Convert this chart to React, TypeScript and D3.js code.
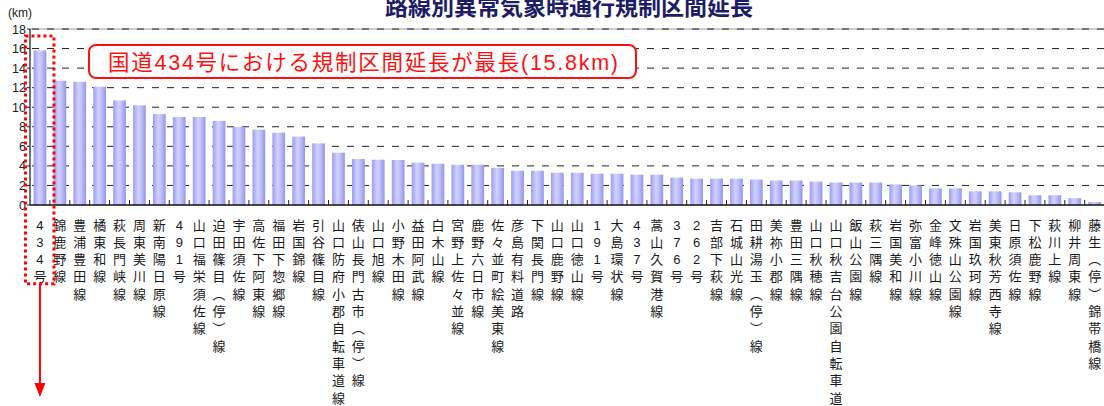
import React from "react";
import * as d3 from "d3";

// Road sections and their regulated length during abnormal weather (km)
const routes: string[] = [
  "434号", "錦鹿野線", "豊浦豊田線", "橘東和線", "萩長門峡線", "周東美川線", "新南陽日原線",
  "491号", "山口福栄須佐線", "迫田篠目︵停︶線", "宇田須佐線", "高佐下阿東線", "福田下惣郷線",
  "岩国錦線", "引谷篠目線", "山口防府小郡自転車道線", "俵山長門古市︵停︶線", "山口旭線",
  "小野木田線", "益田阿武線", "白木山線", "宮野上佐々並線", "鹿野六日市線", "佐々並町絵美東線",
  "彦島有料道路", "下関長門線", "山口鹿野線", "山口徳山線", "191号", "大島環状線", "437号",
  "蒿山久賀港線", "376号", "262号", "吉部下萩線", "石城山光線", "田耕湯玉︵停︶線", "美祢小郡線",
  "豊田三隅線", "山口秋穂線", "山口秋吉台公園自転車道線", "飯山公園線", "萩三隅線", "岩国美和線",
  "弥富小川線", "金峰徳山線", "文殊山公園線", "岩国玖珂線", "美東秋芳西寺線", "日原須佐線",
  "下松鹿野線", "萩川上線", "柳井周東線", "藤生︵停︶錦帯橋線",
];

const lengthsKm: number[] = [
  15.8, 12.7, 12.6, 12.1, 10.7, 10.2, 9.3, 9.0, 9.0, 8.6, 8.0, 7.7, 7.4, 7.0, 6.3, 5.35, 4.7, 4.63, 4.6,
  4.33, 4.22, 4.12, 4.12, 3.8, 3.5, 3.5, 3.3, 3.3, 3.2, 3.2, 3.1, 3.1, 2.8, 2.7, 2.7, 2.7, 2.6, 2.5,
  2.5, 2.4, 2.3, 2.3, 2.3, 2.1, 2.0, 1.7, 1.7, 1.4, 1.4, 1.3, 1.0, 1.0, 0.7, 0.3,
];

const yTicks: number[] = [0, 2, 4, 6, 8, 10, 12, 14, 16, 18];

const titleText = "路線別異常気象時通行規制区間延長";
const calloutText = "国道434号における規制区間延長が最長(15.8km)";
const unitText = "(km)";

const W = 1104;
const H = 406;
const plotLeft = 30;
const plotRight = 1104.6;
const plotTop = 29;
const plotBottom = 205;

const latinThenCjk = "Arial, 'Liberation Sans', 'Noto Sans CJK JP', sans-serif";

export default function App() {
  const x = d3
    .scaleBand<string>()
    .domain(routes)
    .range([plotLeft, plotRight])
    .paddingInner(0.36)
    .paddingOuter(0.18);
  const y = d3.scaleLinear().domain([0, 18]).range([plotBottom, plotTop]);
  const step = x.step();
  const bandStart = (name: string) => (x(name) as number) - step * 0.18;
  const centerOf = (name: string) => (x(name) as number) + x.bandwidth() / 2;

  const first = routes[0];
  const firstCx = centerOf(first);
  const rowH = 17.3;
  const labelTop = 225;
  const highlightBottom = labelTop + 4 * rowH - 10.5;

  return (
    <svg
      width={W}
      height={H}
      style={{ position: "absolute", left: 0, top: 0, background: "#fff" }}
      fontFamily={latinThenCjk}
    >
      <defs>
        <linearGradient id="barFill" x1="0" x2="1" y1="0" y2="0">
          <stop offset="0" stopColor="#9c9cf2" />
          <stop offset="0.4" stopColor="#d0d0ff" />
          <stop offset="0.6" stopColor="#c4c4fc" />
          <stop offset="1" stopColor="#9494ec" />
        </linearGradient>
      </defs>

      <text
        x={569}
        y={15}
        textAnchor="middle"
        fontSize={23}
        fontWeight="bold"
        fill="#1c1c68"
        fontFamily="'Noto Sans CJK JP', sans-serif"
      >
        {titleText}
      </text>

      <text x={8} y={17} fontSize={12} fill="#222">
        {unitText}
      </text>

      {/* top frame line */}
      <line x1={plotLeft} x2={W} y1={y(18)} y2={y(18)} stroke="#bbbbbb" strokeWidth={1.5} />

      {/* dashed gridlines */}
      {yTicks
        .filter((t) => t > 0)
        .map((t) => (
          <line
            key={`g${t}`}
            x1={plotLeft + 2}
            x2={W}
            y1={y(t)}
            y2={y(t)}
            stroke="#222"
            strokeWidth={1}
            strokeDasharray="7,8"
          />
        ))}

      {/* y tick labels and ticks */}
      {yTicks.map((t) => (
        <g key={`t${t}`}>
          <line x1={plotLeft - 3} x2={plotLeft} y1={y(t)} y2={y(t)} stroke="#222" />
          <text x={plotLeft - 4} y={y(t) + 4.5} textAnchor="end" fontSize={12.5} fill="#222">
            {t}
          </text>
        </g>
      ))}

      {/* bars */}
      {routes.map((r, i) => (
        <rect
          key={`b${i}`}
          x={x(r)}
          y={y(lengthsKm[i])}
          width={x.bandwidth()}
          height={y(0) - y(lengthsKm[i])}
          fill="url(#barFill)"
        />
      ))}

      {/* x tick marks at band boundaries */}
      {routes.map((r, i) =>
        i === 0 ? null : (
          <line
            key={`xt${i}`}
            x1={bandStart(r)}
            x2={bandStart(r)}
            y1={plotBottom - 5}
            y2={plotBottom}
            stroke="#222"
          />
        )
      )}

      {/* axes */}
      <line x1={plotLeft} x2={plotLeft} y1={plotTop} y2={plotBottom} stroke="#111" strokeWidth={1.2} />
      <line x1={plotLeft} x2={W} y1={plotBottom} y2={plotBottom} stroke="#111" strokeWidth={1.5} />

      {/* vertical category labels */}
      {routes.map((r, i) => (
        <text key={`l${i}`} fontSize={13} fill="#1a1a1a" textAnchor="middle">
          {Array.from(r).map((ch, k) => (
            <tspan key={k} x={centerOf(r)} y={labelTop + k * rowH + 4.5}>
              {ch}
            </tspan>
          ))}
        </text>
      ))}

      {/* highlight around the longest section */}
      <rect
        x={firstCx - 14.5}
        y={36}
        width={28.5}
        height={highlightBottom - 36}
        fill="none"
        stroke="#ff0000"
        strokeWidth={3}
        strokeDasharray="3,3"
      />
      <line
        x1={firstCx}
        x2={firstCx}
        y1={highlightBottom}
        y2={385}
        stroke="#ff0000"
        strokeWidth={2}
      />
      <path
        d={`M${firstCx - 5.5},${383} L${firstCx + 5.5},${383} L${firstCx},${397} Z`}
        fill="#ff0000"
      />

      {/* callout */}
      <rect
        x={89}
        y={45}
        width={547}
        height={33}
        rx={7}
        ry={7}
        fill="#fff"
        stroke="#ff1010"
        strokeWidth={2}
      />
      <text
        x={108}
        y={69.5}
        fontSize={21.5}
        fill="#ff1010"
        textLength={510}
        lengthAdjust="spacing"
      >
        {calloutText}
      </text>
    </svg>
  );
}
